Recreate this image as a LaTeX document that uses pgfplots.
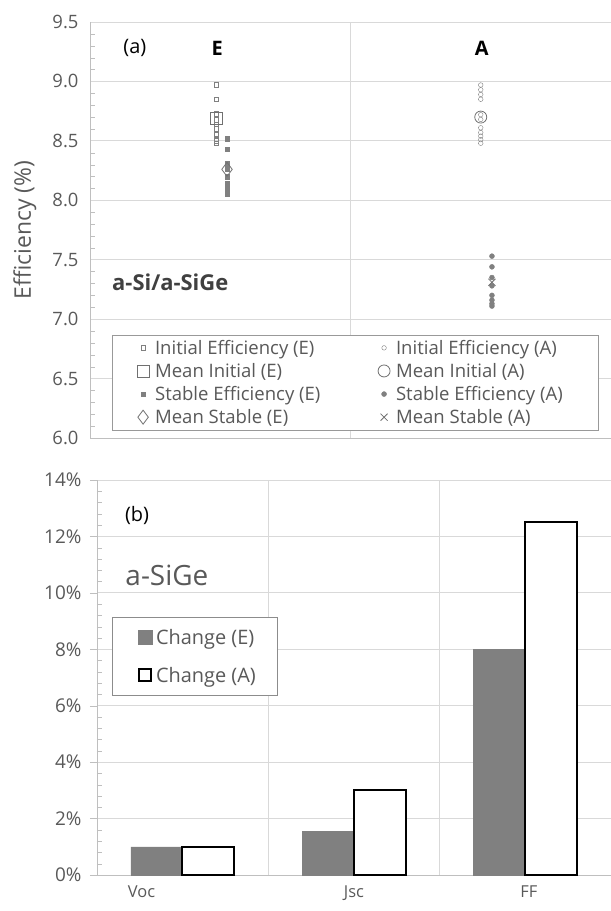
\documentclass[border=0pt]{standalone}
\usepackage{fontspec}
\setmainfont{Open Sans}
\usepackage{pgfplots}
\pgfplotsset{compat=1.18}
\definecolor{labelgray}{HTML}{595959}
\definecolor{axisgray}{HTML}{BFBFBF}
\definecolor{gridgray}{HTML}{D9D9D9}
\definecolor{markgray}{HTML}{808080}
\definecolor{meangray}{HTML}{707070}
\definecolor{bargray}{HTML}{808080}
\definecolor{textdark}{HTML}{404040}
\begin{document}
\begin{tikzpicture}
\path[use as bounding box] (0bp,0bp) rectangle (611bp,911bp);
% ---------------- (a) ----------------
\begin{axis}[
 at={(90bp,473bp)}, anchor=south west,
 scale only axis, width=521bp, height=416bp,
 xmin=0, xmax=2, ymin=6, ymax=9.5,
 axis lines=left, axis line style={-, draw=axisgray},
 xtick=\empty, extra x ticks={1}, extra x tick labels={},
 extra x tick style={grid=major, major tick length=0pt},
 ytick={6,6.5,7,7.5,8,8.5,9,9.5},
 yticklabels={6.0,6.5,7.0,7.5,8.0,8.5,9.0,9.5},
 minor y tick num=4,
 ymajorgrids, grid style={draw=gridgray, line width=0.8bp},
 tick align=inside, major tick length=0pt, minor tick length=5bp,
 tick style={draw=axisgray},
 yticklabel style={font=\fontsize{18.5}{18.5}\selectfont, text=labelgray, xshift=-8bp},
 legend columns=2,
 legend style={at={(0.042,0.248)}, anchor=north west, draw=gray!80,
   font=\fontsize{18.6}{18.6}\selectfont, text=labelgray, row sep=3.5bp,
   inner xsep=0bp, inner ysep=3bp},
 legend cell align=left,
 legend image code/.code={\path[draw=none,fill=none] (-31bp,0bp) -- (10bp,0bp); \draw[#1] plot coordinates {(0bp,0bp)};},
 clip=false,
]
\addplot[only marks, mark=square, mark size=2.3bp, draw=markgray] coordinates {
(0.484,8.97) (0.484,8.85) (0.484,8.73) (0.484,8.68) (0.484,8.64) (0.484,8.60) (0.484,8.55) (0.484,8.52) (0.484,8.50) (0.484,8.48)};
\addlegendentry{\makebox[196bp][l]{Initial Efficiency (E)}}
\addplot[only marks, mark=o, mark size=2.3bp, draw=markgray] coordinates {
(1.500,8.97) (1.500,8.93) (1.500,8.89) (1.500,8.85) (1.500,8.72) (1.500,8.68) (1.500,8.61) (1.500,8.57) (1.500,8.54) (1.500,8.51) (1.500,8.48)};
\addlegendentry{\makebox[200bp][l]{Initial Efficiency (A)}}
\addplot[only marks, mark=square, mark size=6bp, draw=meangray, mark options={line width=0.8bp}] coordinates {(0.484,8.69)};
\addlegendentry{\makebox[196bp][l]{Mean Initial (E)}}
\addplot[only marks, mark=o, mark size=6bp, draw=meangray, mark options={line width=0.8bp}] coordinates {(1.500,8.70)};
\addlegendentry{\makebox[200bp][l]{Mean Initial (A)}}
\addplot[only marks, mark=square*, mark size=2.3bp, draw=markgray, fill=markgray] coordinates {
(0.526,8.52) (0.526,8.43) (0.526,8.31) (0.526,8.26) (0.526,8.20) (0.526,8.14) (0.526,8.10) (0.526,8.07) (0.526,8.05)};
\addlegendentry{\makebox[196bp][l]{Stable Efficiency (E)}}
\addplot[only marks, mark=*, mark size=2.5bp, draw=markgray, fill=markgray] coordinates {
(1.543,7.53) (1.543,7.44) (1.543,7.35) (1.543,7.28) (1.543,7.20) (1.543,7.16) (1.543,7.13) (1.543,7.11)};
\addlegendentry{\makebox[200bp][l]{Stable Efficiency (A)}}
\addplot[only marks, mark=diamond, mark size=7bp, draw=meangray, mark options={line width=0.8bp}] coordinates {(0.526,8.26)};
\addlegendentry{\makebox[196bp][l]{Mean Stable (E)}}
\addplot[only marks, mark=x, mark size=5bp, draw=meangray, mark options={line width=0.8bp}] coordinates {(1.543,7.31)};
\addlegendentry{\makebox[200bp][l]{Mean Stable (A)}}
\node[font=\fontsize{20}{20}\selectfont] at (rel axis cs:0.086,0.9375) {(a)};
\node[font=\fontsize{20}{20}\selectfont\bfseries] at (rel axis cs:0.244,0.9375) {E};
\node[font=\fontsize{20}{20}\selectfont\bfseries] at (rel axis cs:0.752,0.9375) {A};
\node[font=\fontsize{22}{22}\selectfont\bfseries, text=textdark] at (rel axis cs:0.154,0.375) {a-Si/a-SiGe};
\node[rotate=90, font=\fontsize{23}{23}\selectfont, text=labelgray] at (rel axis cs:-0.125,0.5) {Efficiency (\%)};
\end{axis}
% ---------------- (b) ----------------
\begin{axis}[
 at={(97bp,36bp)}, anchor=south west,
 scale only axis, width=514bp, height=395bp,
 xmin=-0.5, xmax=2.5, ymin=0, ymax=14,
 axis lines=left, axis line style={-, draw=axisgray},
 xtick={-0.24,1.0,2.02}, xticklabels={Voc,Jsc,FF},
 x tick style={draw=none},
 extra x ticks={0.5,1.5}, extra x tick labels={},
 extra x tick style={grid=major, major tick length=0pt},
 ytick={0,2,4,6,8,10,12,14},
 yticklabels={0\%,2\%,4\%,6\%,8\%,10\%,12\%,14\%},
 minor y tick num=4,
 ymajorgrids, grid style={draw=gridgray, line width=0.8bp},
 tick align=outside, major tick length=7bp, minor tick length=5bp,
 minor tick style={xshift=5bp},
 y tick style={draw=axisgray},
 yticklabel style={font=\fontsize{19}{19}\selectfont, text=labelgray, xshift=-5bp},
 xticklabel style={font=\fontsize{16.5}{16.5}\selectfont, text=labelgray},
 legend style={at={(0.029,0.653)}, anchor=north west, draw=gray!90,
   font=\fontsize{20}{20}\selectfont, text=labelgray, row sep=17bp,
   inner xsep=10bp, inner ysep=10bp},
 legend cell align=left,
 clip=false,
]
\addplot[ybar, bar width=52bp, bar shift=0pt, fill=bargray, draw=bargray,
  legend image code/.code={\path[draw=none,fill=none] (-16bp,0bp) -- (16bp,0bp); \fill[bargray] (0bp,-7bp) rectangle (14bp,7bp);}]
  coordinates {(-0.15,1.0) (0.85,1.55) (1.85,8.0)};
\addlegendentry{Change (E)\hspace*{9bp}}
\addplot[ybar, bar width=52bp, bar shift=0pt, fill=white, draw=black, line width=2bp,
  legend image code/.code={\path[draw=none,fill=none] (-16bp,0bp) -- (16bp,0bp); \draw[black, fill=white, line width=2bp] (1bp,-6bp) rectangle (13bp,6bp);}]
  coordinates {(0.15,1.0) (1.15,3.0) (2.15,12.5)};
\addlegendentry{Change (A)\hspace*{9bp}}
\node[font=\fontsize{20}{20}\selectfont] at (rel axis cs:0.078,0.909) {(b)};
\node[font=\fontsize{28}{28}\selectfont, text=labelgray] at (rel axis cs:0.136,0.759) {a-SiGe};
\end{axis}
\end{tikzpicture}
\end{document}
